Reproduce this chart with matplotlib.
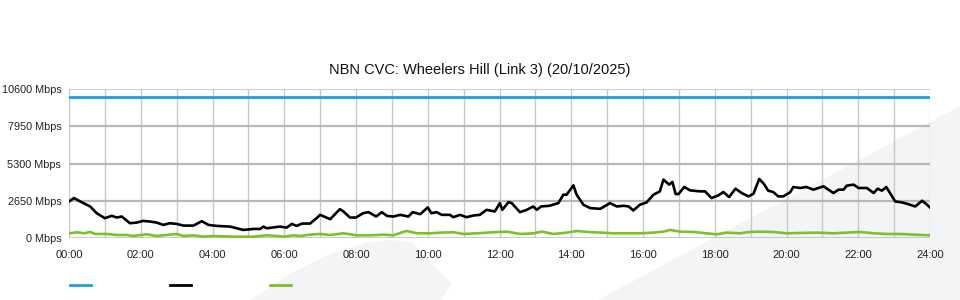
import matplotlib
matplotlib.use("Agg")
import matplotlib.pyplot as plt
from matplotlib.patches import Polygon
from matplotlib.lines import Line2D

# ---- data ----
title = "NBN CVC: Wheelers Hill (Link 3) (20/10/2025)"
y_ticks = [0, 2650, 5300, 7950, 10600]
y_tick_labels = ["0 Mbps", "2650 Mbps", "5300 Mbps", "7950 Mbps", "10600 Mbps"]
x_ticks = [0, 2, 4, 6, 8, 10, 12, 14, 16, 18, 20, 22, 24]
x_tick_labels = ["00:00", "02:00", "04:00", "06:00", "08:00", "10:00", "12:00",
                 "14:00", "16:00", "18:00", "20:00", "22:00", "24:00"]

capacity_hours = [0, 24]
capacity_values = [10000, 10000]

black_hours = [0.0, 0.14, 0.31, 0.59, 0.77, 1.0, 1.19, 1.33, 1.47, 1.70, 1.89, 2.07,
               2.26, 2.44, 2.63, 2.81, 3.0, 3.19, 3.47, 3.70, 3.89, 4.12, 4.49, 4.67,
               4.86, 5.14, 5.33, 5.42, 5.51, 5.88, 6.07, 6.21, 6.35, 6.49, 6.72, 6.90,
               7.0, 7.28, 7.55, 7.65, 7.83, 8.0, 8.20, 8.35, 8.56, 8.72, 8.86, 9.04,
               9.23, 9.46, 9.58, 9.79, 10.0, 10.1, 10.25, 10.39, 10.62, 10.71, 10.9,
               11.08, 11.27, 11.45, 11.64, 11.87, 12.01, 12.08, 12.25, 12.34, 12.57,
               12.76, 12.94, 13.04, 13.16, 13.39, 13.64, 13.78, 13.87, 14.06, 14.15,
               14.34, 14.53, 14.81, 15.08, 15.27, 15.46, 15.6, 15.73, 15.91, 16.10,
               16.29, 16.47, 16.57, 16.73, 16.82, 16.91, 16.99, 17.15, 17.31, 17.59,
               17.73, 17.91, 18.10, 18.24, 18.40, 18.58, 18.75, 18.94, 19.08, 19.24,
               19.37, 19.49, 19.63, 19.77, 19.91, 20.10, 20.19, 20.38, 20.56, 20.75,
               21.03, 21.31, 21.45, 21.59, 21.68, 21.87, 22.01, 22.24, 22.43, 22.54,
               22.66, 22.78, 23.03, 23.22, 23.36, 23.59, 23.78, 23.92, 24.0]
black_values = [2602, 2841, 2602, 2244, 1767, 1409, 1576, 1456, 1528, 1051, 1098, 1218,
                1170, 1098, 931, 1051, 1003, 883, 883, 1194, 931, 859, 812, 692,
                573, 645, 645, 812, 692, 812, 740, 1003, 859, 1027, 1027, 1409,
                1647, 1337, 2053, 1886, 1456, 1456, 1767, 1838, 1528, 1838, 1576, 1528,
                1647, 1528, 1838, 1695, 2172, 1767, 1838, 1647, 1647, 1480, 1647,
                1480, 1600, 1647, 2005, 1886, 2483, 2005, 2555, 2483, 1838,
                2005, 2244, 2005, 2244, 2292, 2483, 3080, 3080, 3748, 3080,
                2363, 2125, 2077, 2483, 2244, 2292, 2244, 1957, 2363, 2530,
                3080, 3318, 4154, 3796, 3987, 3128, 3128, 3629, 3390, 3318,
                3318, 2841, 3032, 3271, 2913, 3509, 3199, 2960, 3151, 4202,
                3844, 3366, 3271, 2960, 2960, 3247, 3629, 3557, 3629, 3438,
                3676, 3199, 3438, 3438, 3724, 3796, 3557, 3557, 3199, 3509,
                3366, 3629, 2602, 2530, 2435, 2244, 2650, 2363, 2172]

green_hours = [0.0, 0.24, 0.42, 0.59, 0.73, 1.05, 1.33, 1.61, 1.79, 2.16, 2.44, 2.72,
               3.0, 3.19, 3.47, 3.75, 4.02, 4.58, 5.14, 5.33, 5.51, 5.79, 5.98, 6.26,
               6.44, 6.72, 7.0, 7.28, 7.65, 8.02, 8.39, 8.77, 9.04, 9.4, 9.7, 10.07,
               10.35, 10.72, 11.0, 11.37, 11.83, 12.21, 12.58, 12.95, 13.18, 13.5,
               13.88, 14.16, 14.44, 14.81, 15.18, 15.55, 15.92, 16.29, 16.57, 16.75,
               17.03, 17.4, 17.77, 18.05, 18.33, 18.7, 18.98, 19.26, 19.63, 20.0,
               20.38, 20.84, 21.31, 21.68, 22.05, 22.43, 22.8, 23.17, 23.54, 24.0]
green_values = [334, 406, 334, 430, 286, 286, 215, 215, 143, 263, 143, 215,
                286, 143, 191, 95, 143, 95, 95, 143, 191, 143, 95, 191,
                143, 239, 286, 215, 334, 191, 191, 239, 191, 501, 334, 334,
                382, 406, 286, 334, 406, 453, 286, 334, 453, 286,
                382, 501, 430, 382, 334, 334, 334, 382, 453, 573,
                453, 430, 334, 263, 382, 334, 430, 453, 430, 334,
                358, 382, 334, 382, 430, 334, 286, 286, 239, 191]

# ---- figure ----
W, H = 960, 300
fig = plt.figure(figsize=(W / 100, H / 100), dpi=100)
fig.patch.set_facecolor("white")

def px(x, y):
    return (x / W, 1 - y / H)

wm_color = "#f3f4f6"
left_shape = [px(250, 300), px(290, 274), px(330, 254), px(365, 243), px(390, 240),
              px(413, 242), px(428, 260), px(452, 284), px(440, 300)]
right_shape = [px(598, 300), px(960, 106), px(960, 300)]
for shp in (left_shape, right_shape):
    fig.add_artist(Polygon(shp, closed=True, transform=fig.transFigure,
                           facecolor=wm_color, edgecolor="none", zorder=0))

ax_l, ax_r, ax_t, ax_b = 69, 930, 89, 238
ax = fig.add_axes([ax_l / W, 1 - ax_b / H, (ax_r - ax_l) / W, (ax_b - ax_t) / H])
ax.patch.set_alpha(0)

ax.set_xlim(0, 24)
ax.set_ylim(0, 10600)

for h in range(0, 25):
    ax.axvline(h, color="#c8c8c8", lw=1.0, zorder=1)
for v in y_ticks[1:-1]:
    ax.axhline(v, color="#b8b8b8", lw=1.6, zorder=1)
ax.axhline(10600, color="#c8c8c8", lw=1.2, zorder=1)
ax.axhline(0, color="#c0c0c0", lw=1.2, zorder=1)

for s in ax.spines.values():
    s.set_visible(False)

font = ["Liberation Sans", "DejaVu Sans"]
ax.set_xticks(x_ticks)
ax.set_xticklabels(x_tick_labels, family=font, fontsize=8.0, color="#222222")
ax.set_yticks(y_ticks)
ax.set_yticklabels(y_tick_labels, family=font, fontsize=7.8, color="#222222")
ax.tick_params(axis="y", length=0, pad=5.5)
ax.tick_params(axis="x", length=0, pad=9)

ax.plot(capacity_hours, capacity_values, color="#1d9fdf", lw=2.0, zorder=3)
ax.plot(black_hours, black_values, color="#000000", lw=1.9, zorder=3)
ax.plot(green_hours, green_values, color="#7dc02d", lw=1.9, zorder=3)

fig.text(0.5, 1 - 70 / H, title, ha="center", va="center",
         family=font, fontsize=10.5, color="#111111")

for x0, c in ((70, "#1d9fdf"), (170, "#000000"), (270, "#7dc02d")):
    fig.add_artist(Line2D([x0 / W, (x0 + 21) / W], [1 - 285 / H] * 2,
                          transform=fig.transFigure, color=c, lw=2.0))

fig.savefig("out.png", dpi=100)
